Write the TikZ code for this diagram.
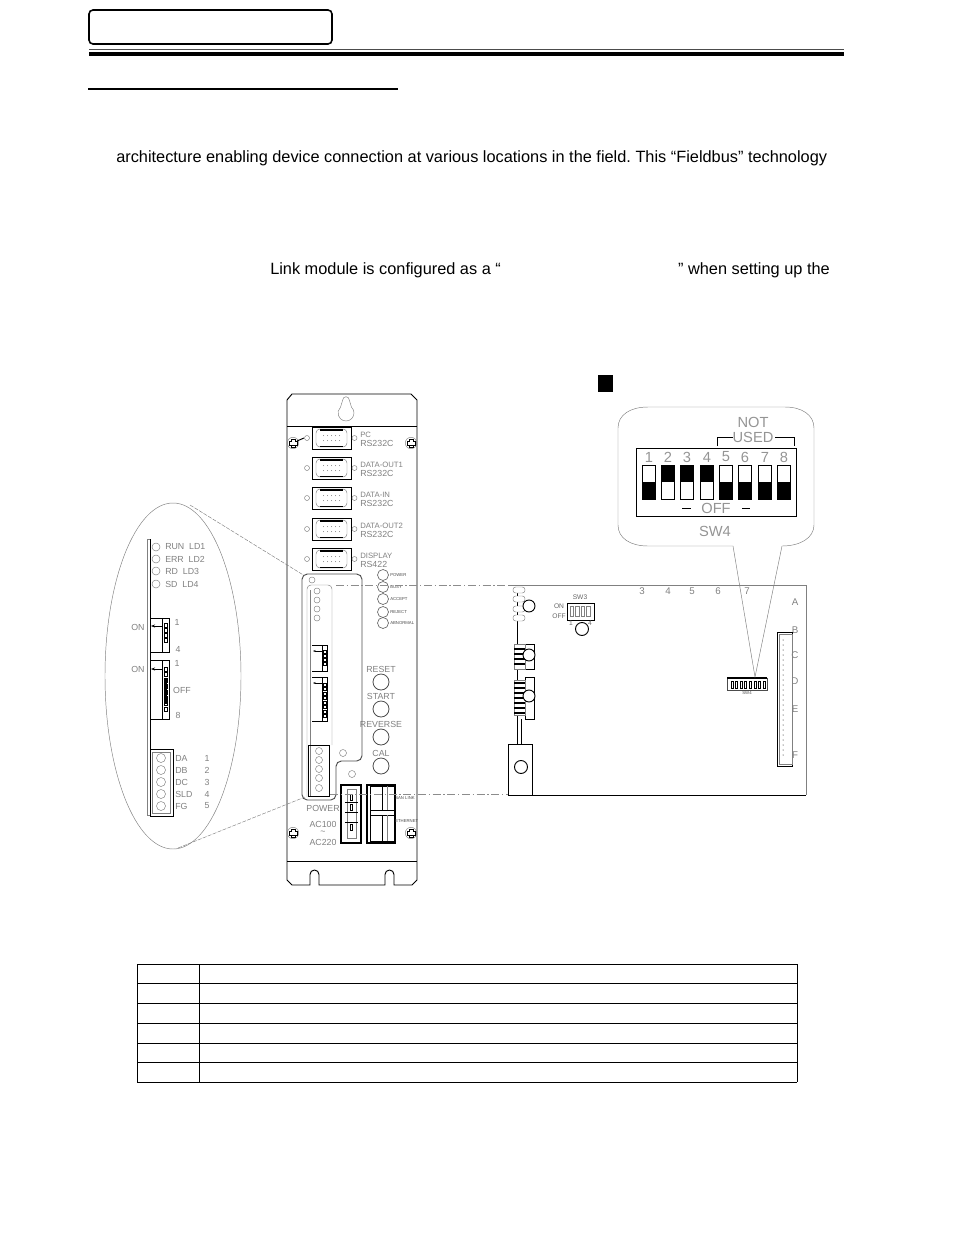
\documentclass[tikz,border=0pt]{standalone}
\usepackage{fontspec}
\setmainfont{Liberation Sans}
\usetikzlibrary{arrows.meta}
\frenchspacing
\tikzset{
    body/.style={font=\fontsize{12.25pt}{14pt}\selectfont, inner sep=0, anchor=base west},
    lab/.style={font=\fontsize{6.6pt}{7pt}\selectfont, text=black!50, inner sep=0},
    labs/.style={font=\fontsize{5.8pt}{7pt}\selectfont, text=black!50, inner sep=0},
    letter/.style={font=\fontsize{7.3pt}{8pt}\selectfont, text=black!50, inner sep=0},
    small/.style={font=\fontsize{5pt}{6pt}\selectfont, text=black!60, inner sep=0},
    tiny/.style={font=\fontsize{3.2pt}{4pt}\selectfont, text=black!70, inner sep=0},
    big/.style={font=\fontsize{11pt}{12pt}\selectfont, text=black!42, inner sep=0},
    blk/.style={draw=black, line width=.7pt},
    fine/.style={draw=black!50, line width=.35pt},
    guide/.style={draw=black!45, line width=.35pt, dash pattern=on 6pt off 2pt on 1pt off 2pt}
}
\begin{document}
\begin{tikzpicture}[x=.75pt, y=-.75pt]
    \useasboundingbox (0,0) rectangle (954,1235);

    % page head
    \draw[line width=1.2pt, rounded corners=3pt] (89,10) rectangle (332,44);
    \draw[line width=.6pt, draw=black!70] (89,49) -- (844,49);
    \fill (89,51.5) rectangle (844,56);
    \draw[line width=1.3pt] (88,89) -- (398,89);

    \node[body] (line1) at (116,162) {architecture enabling device connection at various locations in the field. This “Fieldbus” technology};
    \node[body] (line2a) at (270,274) {Link module is configured as a “};
    \node[body, anchor=base east] (line2b) at (830,274) {” when setting up the};
    \fill (598,375) rectangle (613,392);

    % front panel
    \draw[blk] (292,394) -- (411,394) -- (417,400) -- (417,880) -- (412,885) -- (394,885)
        -- (394,874.5) arc (0:-180:4.5) -- (385,885) -- (319,885) -- (319,874.5) arc (0:-180:4.5)
        -- (310,885) -- (292,885) -- (287,880) -- (287,400) -- cycle;
    \draw[blk] (287,426) -- (417,426);
    \draw[blk] (287,861) -- (417,861);
    \draw[fine] (342.7,400) arc (180:360:3.3) -- (351.5,407.2) arc (-46.5:226.5:8) -- cycle;
    \foreach \x/\y in {293/443, 411/443, 293/833, 411/833} {
        \draw[fine] (\x,\y) circle (5.7);
        \draw[line width=.3pt, fill=white] (\x-1.8,\y-4) rectangle (\x+1.8,\y+4);
        \draw[line width=.3pt, fill=white] (\x-4,\y-1.8) rectangle (\x+4,\y+1.8);
        \fill[white] (\x-1.5,\y-2.2) rectangle (\x+1.5,\y+2.2);
    }
    \draw[blk] (297,441) -- (304,438);

    \foreach[count=\i] \cy/\ta/\tb in {438/PC/RS232C, 468/DATA-OUT1/RS232C, 498/DATA-IN/RS232C, 529/DATA-OUT2/RS232C, 559/DISPLAY/RS422} {
        \draw[blk] (312,\cy-11) rectangle (351,\cy+11);
        \draw[fine, rounded corners=3pt] (316,\cy-9) rectangle (347,\cy+9);
        \fill (320,\cy-9) rectangle (343,\cy-7.5);
        \fill (320,\cy+7.5) rectangle (343,\cy+9);
        \foreach \k in {0,...,4} {
            \fill[black!50] (323.5+4*\k,\cy-2.5) circle (.5);
            \fill[black!50] (323.5+4*\k,\cy+2.5) circle (.5);
        }
        \draw[fine] (307,\cy) circle (2.5);
        \draw[fine] (354.5,\cy) circle (2.5);
        \node[labs, anchor=west] (port\i) at (360,\cy-3) {\ta};
        \node[lab, anchor=west] (portb\i) at (360,\cy+5) {\tb};
    }
    \foreach[count=\i] \cy/\t in {575/POWER, 587/BUSY, 599/ACCEPT, 612/REJECT, 623/ABNORMAL} {
        \draw[draw=black!60, line width=.5pt] (383,\cy) circle (5.5);
        \node[tiny, anchor=west] (led\i) at (390,\cy) {\t};
    }
    \foreach[count=\i] \cy/\t in {682/RESET, 709/START, 737/REVERSE, 766/CAL} {
        \draw[draw=black!70, line width=.6pt] (381,\cy) circle (8);
        \node[lab, anchor=center] (btn\i) at (381,\cy-13) {\t};
    }

    % module on the panel
    \draw[blk, draw=black!70, rounded corners=4pt] (302,574) -- (362,574) -- (362,761) -- (336,761) -- (336,800) -- (302,800) -- cycle;
    \draw[fine, rounded corners=3pt] (307,797) -- (307,585) -- (332,585) -- (332,745);
    \draw[fine] (310,590) -- (310,797);
    \draw[fine] (312,580) circle (3);
    \foreach \cy in {591,600,609,618}
        \draw[fine] (317,\cy) circle (3);
    \draw[blk] (312,645) -- (327,645) -- (327,671) -- (312,671);
    \draw[blk] (322,645) -- (322,671);
    \foreach \k in {0,...,3}
        \draw[line width=.5pt] (323.5,650+4*\k) rectangle (326,653+4*\k);
    \draw[-{Stealth[length=2pt]}, line width=.35pt] (322,651) -- (313,651);
    \draw[blk] (312,677) -- (327,677) -- (327,721) -- (312,721);
    \draw[blk] (322,677) -- (322,721);
    \foreach \k in {0,...,7}
        \draw[line width=.5pt] (323.5,683+4.5*\k) rectangle (326,686+4.5*\k);
    \draw[-{Stealth[length=2pt]}, line width=.35pt] (322,683) -- (313,683);
    \draw[blk] (308,745) rectangle (329,796);
    \foreach \cy in {751,760,769,778,788}
        \draw[fine] (319,\cy) circle (3.5);
    \draw[fine] (343,753) circle (3.5);
    \draw[fine] (352,774) circle (3.5);

    % power and link sockets
    \draw[line width=1.3pt] (341,785) rectangle (361,843);
    \draw[fine] (347,789) rectangle (356,838);
    \draw[blk] (345,802) -- (358,802) (345,812) -- (358,812) (345,822) -- (358,822);
    \foreach \cy in {797,807,827}
        \draw[line width=.7pt] (350,\cy-3) rectangle (352.5,\cy+3);
    \draw[line width=1pt] (367,785) rectangle (395,843);
    \draw[blk] (370,785) -- (370,843);
    \draw[blk] (370,786) rectangle (395,810);
    \draw[blk] (370,815) rectangle (395,841);
    \draw[blk] (382,786) -- (382,810) (382,815) -- (382,841);
    \draw[fine] (387,786) -- (387,810) (387,815) -- (387,841);
    \node[tiny, anchor=west] (slink) at (395,798) {SAN LINK};
    \node[tiny, anchor=west] (ether) at (395,821) {ETHERNET};
    \node[lab, anchor=center] (pwr) at (323,808) {POWER};
    \node[lab, anchor=center] (ac1) at (323,824) {AC100};
    \node[lab, anchor=center] (ac2) at (323,833) {\textasciitilde};
    \node[lab, anchor=center] (ac3) at (323,842) {AC220};

    % enlarged view, left
    \draw[fine] (173,676) ellipse (68 and 173);
    \draw[fine, dash pattern=on 3pt off 1pt] (190,505) -- (305,576);
    \draw[fine, dash pattern=on 3pt off 1pt] (178,848) -- (305,797);
    \draw[fine] (147,539) -- (147,815);
    \draw[blk] (150,539) -- (150,815);
    \draw[fine] (147,539) -- (150,539) (147,815) -- (150,815);
    \foreach[count=\i] \cy/\t in {547/RUN\ \ LD1, 559/ERR\ \ LD2, 571/RD\ \ LD3, 584/SD\ \ LD4} {
        \draw[fine] (156,\cy) circle (4);
        \node[lab, anchor=west] (ld\i) at (165,\cy) {\t};
    }
    \draw[blk] (150,618) -- (169,618) -- (169,652) -- (150,652);
    \draw[blk] (162,618) -- (162,652);
    \foreach \k in {0,...,3}
        \draw[line width=.6pt] (164,623+5*\k) rectangle (167,627+5*\k);
    \draw[-{Stealth[length=3pt]}, line width=.4pt] (162,626) -- (151,626);
    \node[lab] (on1) at (138,627) {ON};
    \node[lab] (one1) at (177,622) {1};
    \node[lab] (four1) at (178,649) {4};
    \draw[blk] (150,660) -- (169,660) -- (169,719) -- (150,719);
    \draw[blk] (162,660) -- (162,719);
    \foreach \k in {0,...,7}
        \draw[line width=.6pt] (164,667+5.8*\k) rectangle (167,671+5.8*\k);
    \fill (164,679) rectangle (167,704);
    \draw[-{Stealth[length=3pt]}, line width=.4pt] (162,669) -- (151,669);
    \node[lab] (on2) at (138,669) {ON};
    \node[lab] (one2) at (177,663) {1};
    \node[lab] (off2) at (182,690) {OFF};
    \node[lab] (eight2) at (178,715) {8};
    \draw[blk] (150,749) rectangle (173,816);
    \draw[fine] (152,752) rectangle (170,813);
    \foreach[count=\i] \cy/\t in {758/DA, 770/DB, 782/DC, 794/SLD, 806/FG} {
        \draw[fine] (161,\cy) circle (4.5);
        \node[lab, anchor=west] (term\i) at (175,\cy) {\t};
        \node[lab] (num\i) at (207,\cy) {\i};
    }

    % board
    \draw[guide] (336,585) -- (508,585);
    \draw[guide] (330,794) -- (508,794);
    \draw[fine] (508,585) -- (806,585) -- (806,795);
    \draw[blk] (508,795) -- (806,795);
    \draw[blk] (517,590) -- (517,744);
    \draw[blk] (521,719) -- (521,744);
    \draw[blk, fill=white] (508,744) rectangle (532,795);
    \draw[blk] (521,767) circle (6.5);
    \foreach \cy in {590,599,609,618}
        \draw[fine, rounded corners=2pt, fill=white] (513,\cy-3) rectangle (525,\cy+3);
    \draw[blk, fill=white] (529,606) circle (6);
    \draw[blk] (525,644) rectangle (534,669);
    \draw[fine, fill=white] (514,644) rectangle (525,669);
    \foreach \k in {0,...,3}
        \fill (514,648+5*\k) rectangle (525,650+5*\k);
    \draw[blk, fill=white] (529,655) circle (6);
    \draw[blk] (525,677) rectangle (534,719);
    \draw[fine, fill=white] (514,680) rectangle (525,715);
    \foreach \k in {0,...,6}
        \fill (514,682+5*\k) rectangle (525,684+5*\k);
    \draw[blk, fill=white] (529,696) circle (6);
    \draw[blk] (567,603) rectangle (594,620);
    \foreach \k in {0,...,3}
        \draw[fine] (570+5.5*\k,606) rectangle (573.5+5.5*\k,616);
    \draw[blk, fill=white] (582,629) circle (6.5);
    \node[small] (sw3) at (580,597) {SW3};
    \node[small] (sw3on) at (559,606) {ON};
    \node[small] (sw3off) at (559,616) {OFF};
    \node[small] (sw3a) at (571,623) {1};
    \node[small] (sw3b) at (590,623) {4};
    \foreach \t/\x in {3/642, 4/668, 5/692, 6/718, 7/747}
        \node[letter] (col\t) at (\x,591) {\t};
    \foreach \t/\y in {A/602, B/630, C/655, D/681, E/709, F/755}
        \node[letter] (row\t) at (795,\y) {\t};
    \draw[blk] (777,632) rectangle (792,766);
    \draw[fine] (779,634) rectangle (792,764);
    \foreach \k in {0,...,23}
        \fill (783,640+5*\k) circle (.5);
    \draw[fine, draw=black!70] (727,678) rectangle (767,690);
    \draw[line width=1pt] (727,678) -- (767,678);
    \foreach \k in {0,...,7}
        \draw[line width=.5pt] (731+4.6*\k,681) rectangle (733+4.6*\k,688);
    \node[tiny] (sw4s) at (747,693) {SW4};

    % callout with the dip switch
    \draw[fine] (733,546) -- (755,677) -- (782,546);
    \draw[fine] (733,546) -- (648,546) .. controls (630,546) and (618,538) .. (618,525)
        -- (618,428) .. controls (618,415) and (630,407) .. (648,407)
        -- (785,407) .. controls (802,407) and (814,415) .. (814,428)
        -- (814,525) .. controls (814,538) and (800,546) .. (782,546);
    \draw[blk] (636,448) rectangle (796,516);
    \foreach[count=\i] \x/\state in {649/0, 668/1, 687/1, 707/1, 726/0, 745/0, 765/0, 784/0} {
        \node[big] (dip\i) at (\x,457) {\i};
        \ifnum\state=1
            \fill (\x-6.5,465) rectangle (\x+6.5,482);
        \else
            \fill (\x-6.5,482) rectangle (\x+6.5,499);
        \fi
        \draw[blk] (\x-6.5,465) rectangle (\x+6.5,499);
    }
    \node[big] (nott) at (753,422) {NOT};
    \node[big] (used) at (753,437) {USED};
    \draw[blk] (717,446) -- (717,437) -- (733,437);
    \draw[blk] (775,437) -- (794,437) -- (794,446);
    \draw[blk] (682,508) -- (691,508);
    \node[big] (offtxt) at (716,508) {OFF};
    \draw[blk] (742,508) -- (750,508);
    \node[big] (sw4big) at (715,531) {SW4};

    % table
    \foreach \y in {964,983.5,1003.5,1023,1043,1062.5,1082}
        \draw[blk] (137,\y) -- (797,\y);
    \foreach \x in {137,199,797}
        \draw[blk] (\x,964) -- (\x,1082);
\end{tikzpicture}
\end{document}
